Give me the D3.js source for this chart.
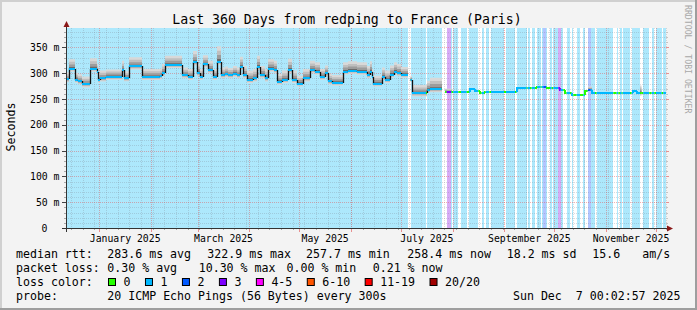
<!DOCTYPE html>
<html>
<head>
<meta charset="utf-8">
<script src="https://cdn.jsdelivr.net/npm/d3@7/dist/d3.min.js"></script>
<style>
  body { margin: 0; background: #f3f3f3; }
  svg text { font-family: "DejaVu Sans Mono", monospace; white-space: pre; }
</style>
</head>
<body>
<div id="chart"></div>
<script>
// median rtt as steps: start day (offset from graph start), median in ms, smoke spread above it in ms
const medianDay = [0, 1.8, 5.4, 7.2, 9.6, 14.4, 18.6, 19.2, 20.4, 24, 33.6, 34.8, 37.8, 45.6, 56.4, 57.6,
  59.4, 69.6, 73.2, 76.2, 78.6, 80.4, 82.2, 85.2, 88.2, 90.6, 93, 95.4, 97.2, 100.2, 102.6, 104.4,
  106.2, 108.6, 112.2, 114.6, 116.4, 119.4, 121.2, 124.8, 126.6, 129.6, 133.2, 135.6, 138.6, 142.2,
  146.4, 149.4, 152.4, 155.4, 157.2, 159.6, 166.2, 169.2, 174.6, 180.6, 182.4, 183.6, 184.2, 189.6,
  191.4, 194.4, 196.8, 198.6, 201, 205.2, 206.7, 207.6, 216.6, 218.4, 225.6, 227.4, 231.6, 242.4,
  245.4, 248.4, 251.4, 270.6, 272.4, 278.4, 282.6, 288.6, 296.4, 299.4, 303.6, 311.4, 313.2, 315.6,
  340.2, 342.6, 344.4, 345.3];
const medianMs = [288, 309, 287, 284, 278.5, 309, 303, 287, 290, 293, 306, 290, 313, 293, 294, 300,
  316, 296, 293, 321, 300, 293, 317, 306, 293, 322, 296, 298, 296, 299, 296, 312,
  296, 287, 290, 312, 296, 290, 309, 306, 283.6, 287, 306, 287, 280, 290,
  306, 303, 293, 300, 284, 281.5, 303, 305, 303, 296, 303, 293, 280, 293,
  287, 297, 303, 300, 297, null, 287, 261, 267.5, 269, null, 264, 263, 269,
  266, 261, 263.6, 271, 272, 271, 274, 270.5, 268, 261.6, 258.5, 265, 268, 261.6,
  266, 261.6, 262, 262];
const smokeMs = [14, 18, 14, 14, 15, 20, 16, 14, 15, 14, 18, 14, 18, 15, 15, 18,
  18, 15, 15, 22, 18, 15, 18, 18, 15, 30, 15, 15, 14, 15, 15, 20,
  18, 18, 18, 22, 18, 18, 18, 18, 15, 18, 22, 18, 15, 18,
  18, 18, 15, 15, 15, 15, 18, 18, 18, 18, 20, 15, 15, 18,
  18, 18, 18, 18, 15, 0, 8, 16, 18, 22, 0, 6, 0, 0,
  0, 0, 0, 0, 0, 0, 0, 0, 0, 0, 0, 0, 6, 0,
  0, 0, 14, 0];

// periods where the loss was not 1/20 (days)
const lossStart = [205.4, 216, 225.4, 228.4, 231.4, 235.4, 240.4, 247.4, 250.8, 254, 262.8, 269.4, 276.4,
  278.4, 281.4, 284.8, 286.4, 288.4, 291.4, 295.4, 298.4, 302.4, 304.4, 308.4, 311.4, 313.4, 317.4,
  328.4, 331.4, 333.4, 338.4, 344.4, 350, 353, 357.4];
const lossEnd = [206.8, 216.8, 228.4, 231, 232.4, 237, 241.8, 249.4, 251.8, 255, 264, 270.4, 277,
  279.4, 282.8, 285.4, 288, 290.4, 292.4, 296.8, 300.4, 303.4, 306.4, 310.4, 313, 314.8, 318.4,
  330.4, 332.4, 334, 339.4, 346.4, 351.4, 354, 358.4];
const lossClass = [0, 0, 0, 3, 0, 0, 0, 0, 0, 0, 0, 0, 0,
  0, 0, 0, 2, 0, 0, 3, 0, 0, 0, 0, 0, 2, 0,
  0, 0, 0, 0, 0, 0, 0, 0];

const lossColors = ['#26ff00', '#00b8ff', '#0059ff', '#7e00ff', '#ff00ff', '#ff5500', '#ff0000', '#a10000'];
const lossBg = ['#ffffff', '#ade8fc', '#b2c6ff', '#d6acf6'];
const lossLabels = ['0', '1', '2', '3', '4-5', '6-10', '11-19', '20/20'];

const yTicks = [0, 50, 100, 150, 200, 250, 300, 350];
const xLabelMonths = [0, 2, 4, 6, 8, 10];
const xLabels = ['January 2025', 'March 2025', 'May 2025', 'July 2025', 'September 2025', 'November 2025'];

const title = 'Last 360 Days from redping to France (Paris)';
const rttStats = ['283.6 ms avg', '322.9 ms max', '257.7 ms min', '258.4 ms now', '18.2 ms sd', '15.6', 'am/s'];
const lossStats = ['0.30 % avg', '10.30 % max', '0.00 % min', '0.21 % now'];
const probeText = '20 ICMP Echo Pings (56 Bytes) every 300s';
const stampText = 'Sun Dec  7 00:02:57 2025';

// layout
const rttX = [107.3, 207.3, 306, 407.3, 506.7, 592.3, 642.3];
const lossX = [107.3, 198.7, 286.5, 372.7];

const svg = d3.select('#chart').append('svg')
  .attr('width', 697)
  .attr('height', 310);

svg.append('rect').attr('width', 697).attr('height', 310).attr('fill', '#f3f3f3');
// shaded frame
svg.append('path').attr('d', 'M0,1H697M1,0V310').attr('stroke', '#d0d0d0').attr('stroke-width', 2);
svg.append('path').attr('d', 'M0,309H697M696,0V310').attr('stroke', '#9e9e9e').attr('stroke-width', 2);

const end = new Date(2025, 11, 7, 0, 2, 57);
const start = d3.timeDay.offset(end, -360);
const dayToDate = (d) => new Date(+start + d * 864e5);

const x = d3.scaleTime().domain([start, end]).range([66, 666]);
const y = d3.scaleLinear().domain([0, 387.6]).range([228, 28]);
const xd = (d) => x(dayToDate(d));

// loss background
const bg = svg.append('g');
bg.append('rect')
  .attr('x', xd(0)).attr('y', 28)
  .attr('width', xd(360) - xd(0)).attr('height', 200)
  .attr('fill', lossBg[1]);
bg.selectAll('rect.loss')
  .data(lossStart.map((s, i) => ({ s, e: lossEnd[i], c: lossClass[i] })))
  .enter()
  .append('rect')
  .attr('class', 'loss')
  .attr('x', (d) => Math.round(xd(d.s)))
  .attr('y', 28)
  .attr('width', (d) => Math.max(1, Math.round(xd(d.e)) - Math.round(xd(d.s))))
  .attr('height', 200)
  .attr('fill', (d) => lossBg[d.c]);

// grid
const grid = svg.append('g').attr('shape-rendering', 'crispEdges');
const minorColor = 'rgba(120,120,130,0.26)';
const majorColor = 'rgba(230,70,70,0.42)';
const minorY = d3.range(10, 388, 10).filter((v) => v % 50 !== 0);
const weeks = d3.timeSunday.range(start, end);
const months = d3.timeMonth.range(start, end);

grid.selectAll('line.hmin').data(minorY).enter().append('line')
  .attr('x1', 66).attr('x2', 666)
  .attr('y1', (v) => Math.round(y(v)) + 0.5).attr('y2', (v) => Math.round(y(v)) + 0.5)
  .attr('stroke', minorColor).attr('stroke-dasharray', '1,1');
grid.selectAll('line.vmin').data(weeks).enter().append('line')
  .attr('x1', (d) => Math.round(x(d)) + 0.5).attr('x2', (d) => Math.round(x(d)) + 0.5)
  .attr('y1', 28).attr('y2', 228)
  .attr('stroke', minorColor).attr('stroke-dasharray', '1,1');
grid.selectAll('line.hmaj').data(yTicks.slice(1)).enter().append('line')
  .attr('x1', 66).attr('x2', 666)
  .attr('y1', (v) => Math.round(y(v)) + 0.5).attr('y2', (v) => Math.round(y(v)) + 0.5)
  .attr('stroke', majorColor).attr('stroke-dasharray', '1,1');
grid.selectAll('line.vmaj').data(months).enter().append('line')
  .attr('x1', (d) => Math.round(x(d)) + 0.5).attr('x2', (d) => Math.round(x(d)) + 0.5)
  .attr('y1', 28).attr('y2', 228)
  .attr('stroke', majorColor).attr('stroke-dasharray', '1,1');

// small ticks outside the plot
grid.selectAll('line.tyl').data(minorY).enter().append('line')
  .attr('x1', 64).attr('x2', 66)
  .attr('y1', (v) => Math.round(y(v)) + 0.5).attr('y2', (v) => Math.round(y(v)) + 0.5)
  .attr('stroke', '#aaa');
grid.selectAll('line.tyr').data(minorY).enter().append('line')
  .attr('x1', 666).attr('x2', 668)
  .attr('y1', (v) => Math.round(y(v)) + 0.5).attr('y2', (v) => Math.round(y(v)) + 0.5)
  .attr('stroke', '#c4c4c4');
grid.selectAll('line.tyl2').data(yTicks).enter().append('line')
  .attr('x1', 62).attr('x2', 66)
  .attr('y1', (v) => Math.round(y(v)) + 0.5).attr('y2', (v) => Math.round(y(v)) + 0.5)
  .attr('stroke', '#444');
grid.selectAll('line.tyr2').data(yTicks.slice(1)).enter().append('line')
  .attr('x1', 666).attr('x2', 669)
  .attr('y1', (v) => Math.round(y(v)) + 0.5).attr('y2', (v) => Math.round(y(v)) + 0.5)
  .attr('stroke', '#e89090');
grid.selectAll('line.txw').data(weeks).enter().append('line')
  .attr('x1', (d) => Math.round(x(d)) + 0.5).attr('x2', (d) => Math.round(x(d)) + 0.5)
  .attr('y1', 228).attr('y2', 230)
  .attr('stroke', '#aaa');
grid.selectAll('line.txm').data(months).enter().append('line')
  .attr('x1', (d) => Math.round(x(d)) + 0.5).attr('x2', (d) => Math.round(x(d)) + 0.5)
  .attr('y1', 228).attr('y2', 232)
  .attr('stroke', '#e89090');

// smoke
const segs = medianDay.map((d, i) => ({
  d0: d,
  d1: i + 1 < medianDay.length ? medianDay[i + 1] : 360,
  v: medianMs[i],
  s: smokeMs[i],
}));
const pts = segs.flatMap((s) => [{ d: s.d0, v: s.v, s: s.s }, { d: s.d1, v: s.v, s: s.s }]);
const smokeLayers = [[6, 1.0, '#d8d8d8'], [4, 0.72, '#bfbfbf'], [2, 0.45, '#9c9c9c'], [0, 0.18, '#6a6a6a']];
smokeLayers.forEach(([lo, hi, fill]) => {
  svg.append('path')
    .datum(pts)
    .attr('fill', fill)
    .attr('d', d3.area()
      .defined((p) => p.v != null)
      .x((p) => xd(p.d))
      .y0((p) => y(p.v - Math.min(lo, p.s * 0.4)))
      .y1((p) => y(p.v + hi * p.s)));
});

// median coloured by loss; black risers where there is smoke
const lossAt = (d) => {
  for (let i = 0; i < lossStart.length; i++) {
    if (d >= lossStart[i] && d < lossEnd[i]) return lossClass[i];
  }
  return 1;
};
const cuts = Array.from(new Set([...medianDay, ...lossStart, ...lossEnd, 360])).sort((a, b) => a - b);
const line = svg.append('g').attr('fill', 'none').attr('stroke-width', 2);
let prevY = null;
for (let k = 0; k < cuts.length - 1; k++) {
  const a = cuts[k];
  const b = cuts[k + 1];
  const seg = segs.filter((s) => s.d0 <= a).pop();
  if (!seg || seg.v == null) { prevY = null; continue; }
  const yy = Math.round(y(seg.v));
  const x0 = xd(a);
  const x1 = xd(b);
  let p = `M${x0},${yy}H${x1}`;
  if (prevY != null && prevY !== yy) {
    if (seg.s < 5) {
      p = `M${x0},${prevY}V${yy}H${x1}`;
    } else {
      line.append('path')
        .attr('d', `M${Math.round(x0) + 0.5},${prevY}V${yy}`)
        .attr('stroke', '#111')
        .attr('stroke-width', 1.3);
    }
  }
  line.append('path').attr('d', p).attr('stroke', lossColors[lossAt(a + 1e-6)]);
  prevY = yy;
}

// axes
svg.append('path').attr('d', 'M62,228.5H668').attr('stroke', '#333').attr('shape-rendering', 'crispEdges');
svg.append('path').attr('d', 'M66.5,232V24').attr('stroke', '#333').attr('shape-rendering', 'crispEdges');
svg.append('path').attr('d', 'M667,225.5L673,228.5L667,231.5Z').attr('fill', '#8a1818');
svg.append('path').attr('d', 'M63.5,27L66.5,21L69.5,27Z').attr('fill', '#8a1818');

// axis labels
svg.selectAll('text.ylab').data(yTicks).enter().append('text')
  .attr('x', (v) => (v === 0 ? 47.5 : 59.5))
  .attr('y', (v) => y(v) + 3.5)
  .attr('text-anchor', 'end')
  .attr('font-size', '9.8px')
  .text((v) => (v === 0 ? '0' : `${v} m`));

svg.selectAll('text.xlab').data(xLabelMonths).enter().append('text')
  .attr('x', (m) => (x(new Date(2025, m, 1)) + x(new Date(2025, m + 1, 1))) / 2)
  .attr('y', 242)
  .attr('text-anchor', 'middle')
  .attr('font-size', '9.8px')
  .text((m, i) => xLabels[i]);

svg.append('text')
  .attr('transform', 'translate(14.5,127) rotate(-90)')
  .attr('text-anchor', 'middle')
  .attr('font-size', '11.6px')
  .text('Seconds');

svg.append('text')
  .attr('x', 347).attr('y', 23.5)
  .attr('text-anchor', 'middle')
  .attr('font-size', '13.2px')
  .text(title);

svg.append('text')
  .attr('transform', 'translate(684.5,5) rotate(90)')
  .attr('font-size', '8.2px')
  .attr('fill', '#a8a8a8')
  .text('RRDTOOL / TOBI OETIKER');

// legend
const leg = svg.append('g').attr('font-size', '11.6px');
leg.append('text').attr('x', 16).attr('y', 258).text('median rtt:');
rttStats.forEach((t, i) => leg.append('text').attr('x', rttX[i]).attr('y', 258).text(t));
leg.append('text').attr('x', 16).attr('y', 272).text('packet loss:');
lossStats.forEach((t, i) => leg.append('text').attr('x', lossX[i]).attr('y', 272).text(t));
leg.append('text').attr('x', 16).attr('y', 286).text('loss color:');
let bx = 108.5;
lossLabels.forEach((t, i) => {
  leg.append('rect')
    .attr('x', bx).attr('y', 278.5)
    .attr('width', 7).attr('height', 7)
    .attr('fill', lossColors[i])
    .attr('stroke', '#000');
  leg.append('text').attr('x', bx + 15).attr('y', 286).text(t);
  bx += 15 + t.length * 6.97 + 15;
});
leg.append('text').attr('x', 16).attr('y', 300).text('probe:');
leg.append('text').attr('x', 107.3).attr('y', 300).text(probeText);
leg.append('text').attr('x', 680.5).attr('y', 300).attr('text-anchor', 'end').text(stampText);
</script>
</body>
</html>
